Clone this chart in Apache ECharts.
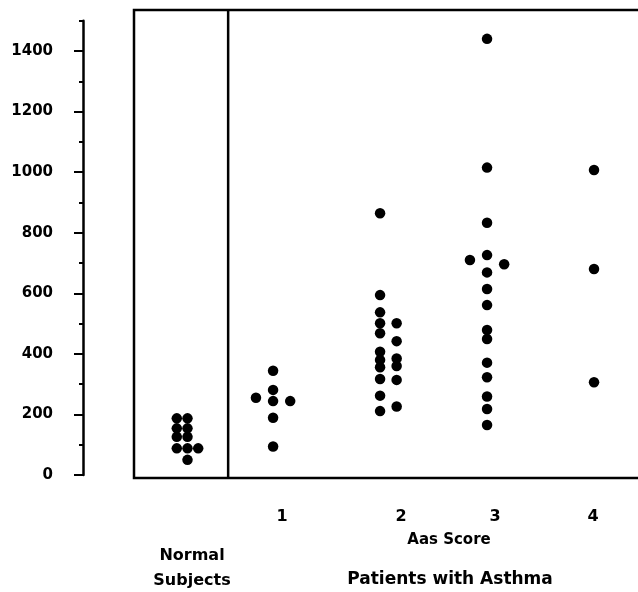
<!DOCTYPE html>
<html><head><meta charset="utf-8">
<script src="https://cdn.jsdelivr.net/npm/echarts@6/dist/echarts.min.js"></script>
<style>html,body{margin:0;padding:0;background:#fff}#c{width:638px;height:592px}</style>
</head><body><div id="c"></div>
<script>
// ---- data ----
const yTickLabels = [0, 200, 400, 600, 800, 1000, 1200, 1400];
const scoreTicks = [1, 2, 3, 4];
const groupLabels = ['Normal', 'Aas 1', 'Aas 2', 'Aas 3', 'Aas 4'];
const groupCenters = [0.2, 1, 2, 3, 4];

const normalValues  = [187, 154, 126, 88, 187, 154, 126, 88, 50, 88];
const normalColumns = [-1, -1, -1, -1, 0, 0, 0, 0, 0, 1];

const score1Values  = [344, 281, 244, 189, 94, 255, 244];
const score1Columns = [0, 0, 0, 0, 0, -1, 1];

const score2Values  = [864, 594, 537, 501, 468, 407, 380, 356, 317, 262, 211, 501, 442, 385, 360, 314, 226];
const score2Columns = [0, 0, 0, 0, 0, 0, 0, 0, 0, 0, 0, 1, 1, 1, 1, 1, 1];

const score3Values  = [1440, 1015, 833, 726, 669, 614, 561, 479, 449, 371, 323, 259, 218, 165, 710, 696];
const score3Columns = [0, 0, 0, 0, 0, 0, 0, 0, 0, 0, 0, 0, 0, 0, -1, 1];

const score4Values  = [1007, 680, 306];
const score4Columns = [0, 0, 0];

const groupValues  = [normalValues, score1Values, score2Values, score3Values, score4Values];
const groupColumns = [normalColumns, score1Columns, score2Columns, score3Columns, score4Columns];
const columnStep   = [0.1, 0.16, 0.155, 0.16, 0.16];

// ---- chart ----
const FONT = 'DejaVu Sans';
const chart = echarts.init(document.getElementById('c'), null, {renderer: 'canvas'});

const series = groupValues.map((vals, g) => ({
  type: 'scatter',
  name: groupLabels[g],
  xAxisIndex: 0, yAxisIndex: 0,
  symbol: 'circle',
  symbolSize: 10.5,
  itemStyle: {color: '#000', opacity: 1},
  silent: true,
  data: vals.map((v, i) => [groupCenters[g] + groupColumns[g][i] * columnStep[g], v])
}));

const labelShift = {1: [0, 0, 0, 18], 2: [0, 0, 0, 42], 3: [0, 0, 0, 16], 4: [0, 2, 0, 0]};
const rich = {};
scoreTicks.forEach(s => { rich['l' + s] = {padding: labelShift[s], fontFamily: FONT, fontSize: 16, fontWeight: 'bold', color: '#000'}; });

const option = {
  animation: false,
  backgroundColor: '#fff',
  grid: {left: 134, right: 0, top: 20.7, bottom: 117, containLabel: false},
  xAxis: {
    type: 'value', min: -0.3, max: 4.411, interval: 1,
    axisLine: {show: false, onZero: false}, axisTick: {show: false}, splitLine: {show: false},
    axisLabel: {
      customValues: scoreTicks,
      margin: 34,
      formatter: v => scoreTicks.includes(v) ? '{l' + v + '|' + v + '}' : '',
      rich: rich
    }
  },
  yAxis: [{
    type: 'value', min: 0, max: 1500, interval: 200, position: 'left', offset: 51,
    axisLine: {show: true, onZero: false, lineStyle: {color: '#000', width: 2.5}},
    axisTick: {show: true, length: 9, customValues: yTickLabels, lineStyle: {color: '#000', width: 2}},
    axisLabel: {customValues: yTickLabels, margin: 30, fontFamily: FONT, fontSize: 15, fontWeight: 'bold', color: '#000',
      formatter: v => yTickLabels.includes(v) ? String(v) : ''},
    splitLine: {show: false}
  }, {
    type: 'value', min: 0, max: 1500, interval: 100, position: 'left', offset: 51,
    axisLine: {show: false, onZero: false},
    axisTick: {show: true, length: 4, lineStyle: {color: '#000', width: 2}},
    axisLabel: {show: false},
    splitLine: {show: false}
  }],
  series: series
};
chart.setOption(option);

const divX = chart.convertToPixel({xAxisIndex: 0}, 0.58);
chart.setOption({
  graphic: [
    {type: 'rect', shape: {x: 134, y: 10, width: 520, height: 468}, style: {fill: null, stroke: '#000', lineWidth: 2.5}, silent: true},
    {type: 'line', shape: {x1: divX, y1: 10, x2: divX, y2: 478}, style: {stroke: '#000', lineWidth: 2.5}, silent: true},
    {type: 'text', x: 449, y: 540, style: {text: 'Aas Score', fontFamily: FONT, fontSize: 15, fontWeight: 'bold', fill: '#000', align: 'center', verticalAlign: 'middle'}},
    {type: 'text', x: 192, y: 568, style: {text: 'Normal\nSubjects', fontFamily: FONT, fontSize: 16, fontWeight: 'bold', lineHeight: 25, fill: '#000', align: 'center', verticalAlign: 'middle'}},
    {type: 'text', x: 450, y: 580, style: {text: 'Patients with Asthma', fontFamily: FONT, fontSize: 17, fontWeight: 'bold', fill: '#000', align: 'center', verticalAlign: 'middle'}}
  ]
});
</script>
</body></html>
